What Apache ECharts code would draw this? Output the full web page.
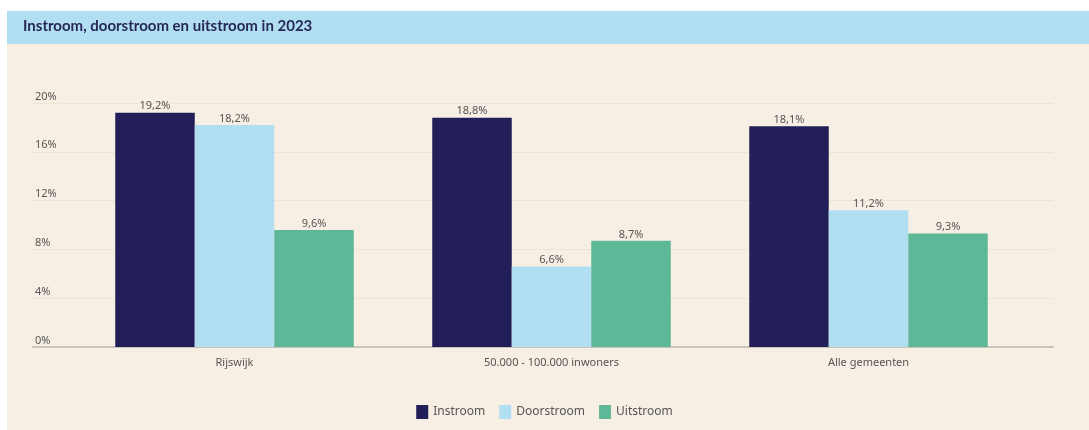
<!DOCTYPE html>
<html>
<head>
<meta charset="utf-8">
<script src="https://cdn.jsdelivr.net/npm/echarts@6/dist/echarts.min.js"></script>
<style>
  html, body { margin: 0; padding: 0; background: #ffffff; }
  #chart { width: 1089px; height: 430px; }
</style>
</head>
<body>
<div id="chart"></div>
<script>
const titleText = 'Instroom, doorstroom en uitstroom in 2023';
const categories = ['Rijswijk', '50.000 - 100.000 inwoners', 'Alle gemeenten'];
const seriesNames = ['Instroom', 'Doorstroom', 'Uitstroom'];
const instroom = [19.2, 18.8, 18.1];
const doorstroom = [18.2, 6.6, 11.2];
const uitstroom = [9.6, 8.7, 9.3];
const yTicks = [0, 4, 8, 12, 16, 20];

const colors = ['#221e5a', '#b1def0', '#5db898'];
const textColor = '#555555';
const font = 'Noto Sans';

const chart = echarts.init(document.getElementById('chart'), null, { renderer: 'canvas' });

function fmt(v) { return String(v).replace('.', ',') + '%'; }

const seriesData = [instroom, doorstroom, uitstroom];

const option = {
  animation: false,
  backgroundColor: 'transparent',
  color: colors,
  graphic: [
    { type: 'rect', left: 7, top: 11, z: -10, shape: { width: 1082, height: 419 }, style: { fill: '#f7efe3' } },
    { type: 'rect', left: 7, top: 11, z: -9, shape: { width: 1082, height: 33 }, style: { fill: '#b1def0' } },
    { type: 'text', left: 23, top: 19, z: 5, style: { text: titleText, fill: '#27275a', font: 'bold 15px Lato' } }
  ],
  legend: {
    bottom: 6,
    left: 'center',
    itemWidth: 12,
    itemHeight: 14,
    itemGap: 14,
    icon: 'rect',
    data: seriesNames,
    textStyle: { color: textColor, fontSize: 12, fontFamily: font, padding: [0, 0, 0, 0] }
  },
  grid: [
    { left: 33, right: 36, top: 103, bottom: 83 },
    { left: 76, right: 62, top: 103, bottom: 83 }
  ],
  xAxis: [
    {
      gridIndex: 0, type: 'value', min: 0, max: 1,
      axisLine: { show: true, lineStyle: { color: '#c9c3b9', width: 2 } },
      axisTick: { show: false }, axisLabel: { show: false }, splitLine: { show: false }
    },
    {
      gridIndex: 1, type: 'category', data: categories,
      axisLine: { show: false }, axisTick: { show: false },
      axisLabel: { color: textColor, fontSize: 11, fontFamily: font, margin: 10 }
    }
  ],
  yAxis: [
    {
      gridIndex: 0, type: 'value', min: yTicks[0], max: yTicks[yTicks.length - 1], interval: 4,
      axisLine: { show: false }, axisTick: { show: false },
      splitLine: { show: true, lineStyle: { color: '#ede4d6', width: 1 } },
      axisLabel: {
        inside: true, margin: 2, verticalAlign: 'bottom', padding: [0, 0, 1, 0],
        color: textColor, fontSize: 11, fontFamily: font,
        formatter: function (v) { return v + '%'; }
      }
    },
    { gridIndex: 1, type: 'value', min: yTicks[0], max: yTicks[yTicks.length - 1], show: false }
  ],
  series: seriesNames.map(function (name, i) {
    return {
      name: name,
      type: 'bar',
      xAxisIndex: 1,
      yAxisIndex: 1,
      data: seriesData[i],
      barWidth: 79.5,
      barGap: '0%',
      itemStyle: { color: colors[i] },
      label: {
        show: true, position: 'top', distance: 1,
        color: textColor, fontSize: 11, fontFamily: font,
        formatter: function (p) { return fmt(p.value); }
      }
    };
  })
};

chart.setOption(option);
</script>
</body>
</html>
